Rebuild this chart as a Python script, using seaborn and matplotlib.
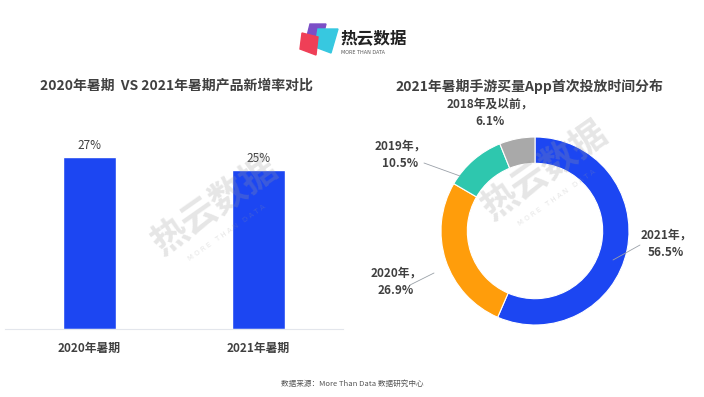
import numpy as np
import pandas as pd
import matplotlib
matplotlib.use('Agg')
import matplotlib.pyplot as plt
from matplotlib.patches import Polygon
import seaborn as sns

# data
periods = ['2020年暑期', '2021年暑期']
new_rates = [27, 25]

launch_years = ['2021年', '2020年', '2019年', '2018年及以前']
launch_shares = [56.5, 26.9, 10.5, 6.1]

bar_color = '#1C46F2'
donut_colors = ['#1C46F2', '#FF9D0B', '#2EC7AE', '#A9A9A9']
text_color = '#404040'

sns.set_theme(style='white')
plt.rcParams['font.family'] = ['Noto Sans CJK SC', 'DejaVu Sans']

W, H = 704, 397
fig = plt.figure(figsize=(W / 100, H / 100), dpi=100)
fig.patch.set_facecolor('white')


def px_rect(x0, y0, x1, y1):
    return [x0 / W, 1 - y1 / H, (x1 - x0) / W, (y1 - y0) / H]


def px(x, y):
    return x / W, 1 - y / H


# ---- logo ----
logo = [
    ([(310, 24), (326, 24), (322, 40), (306, 40)], '#7B4FC6'),
    ([(318, 29), (338, 29), (331, 53), (315, 47)], '#37C8E0'),
    ([(302, 33), (318, 37), (316, 55), (300, 49)], '#EF3F57'),
]
for pts, c in logo:
    fig.patches.append(Polygon([px(*p) for p in pts], closed=True, color=c,
                               transform=fig.transFigure, figure=fig))
fig.text(*px(340, 38), '热云数据', fontsize=12, fontweight='bold',
         color='#222222', va='center', ha='left')
fig.text(*px(341, 52), 'MORE THAN DATA', fontsize=3.5, color='#555555',
         va='center', ha='left', family='DejaVu Sans')

# ---- titles ----
fig.text(*px(176, 86), '2020年暑期  VS 2021年暑期产品新增率对比', fontsize=10,
         fontweight='bold', color=text_color, ha='center', va='center')
fig.text(*px(529, 86), '2021年暑期手游买量App首次投放时间分布', fontsize=10,
         fontweight='bold', color=text_color, ha='center', va='center')

# ---- bar chart ----
ax1 = fig.add_axes(px_rect(5, 110, 343, 329))
df = pd.DataFrame({'period': periods, 'rate': new_rates})
sns.barplot(data=df, x='period', y='rate', color=bar_color, width=0.31,
            saturation=1, ax=ax1)
ax1.set_xlim(-0.5, 1.5)
ax1.set_ylim(0, 34.4)
for i, v in enumerate(new_rates):
    ax1.text(i, v + 0.8, f'{v}%', ha='center', va='bottom', fontsize=8.5,
             color=text_color)
ax1.set_xlabel('')
ax1.set_ylabel('')
ax1.set_yticks([])
for s in ['top', 'right', 'left']:
    ax1.spines[s].set_visible(False)
ax1.spines['bottom'].set_color('#E3E6EC')
ax1.spines['bottom'].set_linewidth(0.8)
ax1.tick_params(axis='x', length=0, pad=9)
for lbl in ax1.get_xticklabels():
    lbl.set_fontsize(8.5)
    lbl.set_fontweight('bold')
    lbl.set_color(text_color)
ax1.patch.set_alpha(0)

# ---- donut ----
ax2 = fig.add_axes(px_rect(360, 100, 704, 340))
ax2.pie(launch_shares, colors=donut_colors, startangle=90, counterclock=False,
        radius=1, wedgeprops=dict(width=0.28, edgecolor='white', linewidth=0.8))
ax2.set_xlim(-175 / 94, 169 / 94)
ax2.set_ylim(-109 / 94, 131 / 94)
ax2.axis('off')


def d(x, y):
    return (x - 535) / 94, (231 - y) / 94


labels = [f'{n}，\n{v}%' for n, v in zip(launch_years, launch_shares)]
label_pos = [(666, 244), (396, 282), (400, 155), (490, 113)]
lines = [((640, 245), (613, 260)), ((410, 285), (434, 273)),
         ((424, 163), (460, 176)), None]
for lab, pos, ln in zip(labels, label_pos, lines):
    ax2.text(*d(*pos), lab, ha='center', va='center', fontsize=8.5,
             fontweight='bold', color=text_color, linespacing=1.5)
    if ln is not None:
        (xa, ya), (xb, yb) = d(*ln[0]), d(*ln[1])
        ax2.plot([xa, xb], [ya, yb], color='#9AA0A8', lw=0.6)

# ---- watermarks ----
for (x, y) in [(215, 205), (545, 170)]:
    fig.text(*px(x, y), '热云数据', fontsize=26, fontweight='bold',
             color='#9A9A9A', alpha=0.25, rotation=35, ha='center', va='center')
    fig.text(*px(x + 12, y + 28), 'M O R E   T H A N   D A T A', fontsize=5,
             color='#9A9A9A', alpha=0.25, rotation=35, ha='center', va='center',
             family='DejaVu Sans')

# ---- footer ----
fig.text(*px(352, 384), '数据来源：More Than Data 数据研究中心', fontsize=5.5,
         color='#555555', ha='center', va='center')

plt.savefig('out.png', dpi=100)
